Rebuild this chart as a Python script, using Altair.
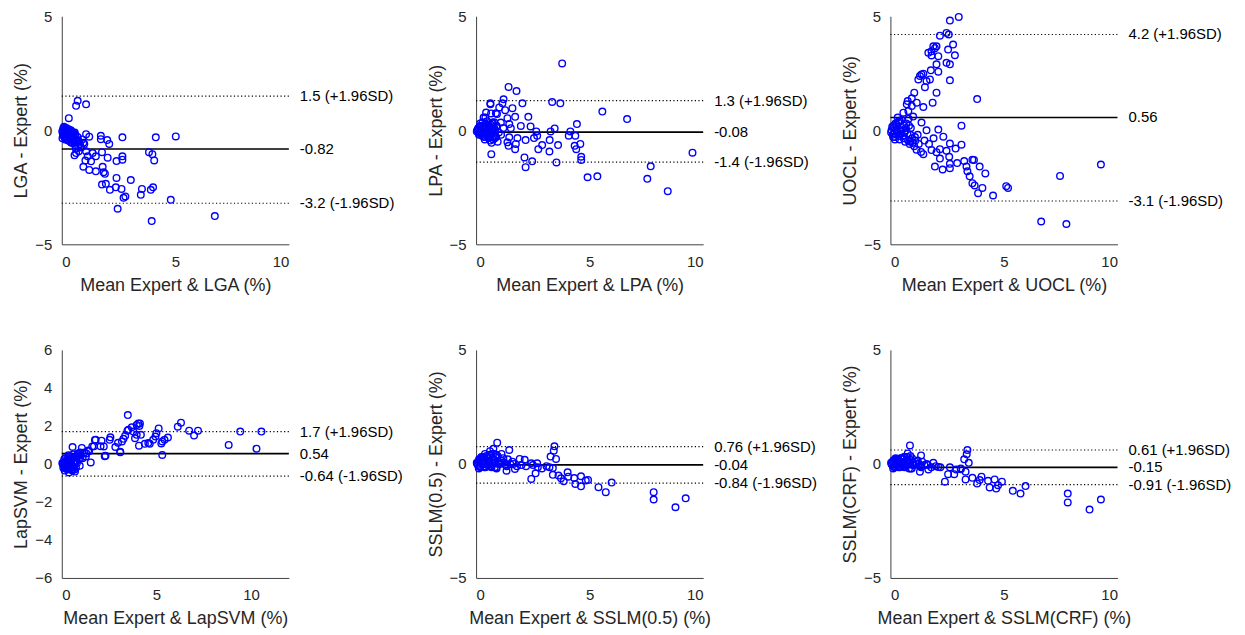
import altair as alt
import pandas as pd

# ---------------- data ----------------
# Panel 1: LGA
lga_x = [0.05, 0.1, 0.15, 0.2, 0.25, 0.3, 0.35, 0.4, 0.45, 0.5, 0.55, 0.6, 0.65, 0.7,
         0.08, 0.18, 0.28, 0.38, 0.48, 0.58, 0.3, 0.2, 0.12, 0.42, 0.52, 0.75, 0.8, 0.85,
         0.9, 0.95, 0.62, 0.72, 0.1, 0.22, 0.33, 0.44, 0.15, 0.05,
         0.70, 0.63, 1.07, 0.31, 1.07, 1.21, 1.72, 1.72, 2.0, 2.09, 2.67, 4.14,
         0.99, 0.63, 0.56, 0.75, 1.07, 1.14, 1.36, 1.29, 1.5, 1.04, 1.77, 2.02,
         0.95, 1.21, 1.5, 1.8, 1.84, 1.9, 2.41, 2.67, 2.67, 2.41, 3.04, 1.77, 1.94,
         2.12, 2.38, 2.63, 2.72, 2.8, 2.46, 3.53, 3.48, 3.92, 4.02, 3.84, 3.99, 4.07,
         3.96, 5.02, 4.8, 6.74,
         0.02, 0.07, 0.12, 0.17, 0.22, 0.27, 0.32, 0.37, 0.42, 0.47, 0.52, 0.57, 0.03,
         0.13, 0.23, 0.33, 0.43, 0.53, 0.63, 0.73]
lga_y = [0.0, -0.1, 0.05, -0.2, -0.05, -0.3, -0.15, 0.0, -0.25, -0.1, -0.35, -0.2, -0.45, -0.3,
         -0.25, -0.35, -0.45, -0.5, -0.55, -0.65, 0.05, 0.1, 0.05, -0.4, -0.3, -0.5, -0.6, -0.75,
         -0.4, -0.55, -0.8, -0.7, 0.15, -0.05, -0.15, -0.1, -0.4, -0.2,
         1.29, 1.07, 1.14, 0.53, -0.17, -0.28, -0.24, -0.39, -0.43, -0.6, -0.31, -0.31,
         -0.6, -1.0, -1.1, -0.92, -0.92, -1.14, -1.0, -1.36, -1.14, -1.33, -0.96, -1.2,
         -1.6, -1.74, -1.8, -1.6, -1.84, -1.91, -1.35, -1.14, -1.29, -2.09, -2.18, -2.38, -2.35,
         -2.61, -2.5, -2.57, -2.96, -2.9, -3.44, -2.57, -2.83, -2.61, -2.5, -0.96, -1.05, -1.32,
         -3.98, -0.27, -3.05, -3.76,
         -0.05, 0.1, -0.3, 0.0, -0.4, -0.15, -0.25, -0.05, -0.55, -0.2, -0.45, -0.1, -0.35,
         -0.15, 0.0, -0.3, -0.2, -0.4, -0.55, -0.45]

# Panel 2: LPA
lpa_x = [0.05, 0.1, 0.15, 0.2, 0.25, 0.3, 0.35, 0.4, 0.45, 0.5, 0.55, 0.6, 0.65, 0.7, 0.75,
         0.8, 0.85, 0.9, 0.95, 1.0, 0.12, 0.22, 0.32, 0.42, 0.52, 0.62, 0.72, 0.82, 0.92,
         0.18, 0.28, 0.38, 0.48, 0.58, 0.68,
         3.79, 1.43, 1.78, 1.21, 1.16, 0.63, 2.04, 3.35, 3.71, 1.6, 1.28, 0.92, 0.66,
         0.44, 0.41, 0.73, 1.09, 1.38, 1.72, 2.3, 1.46, 1.97, 2.4, 1.53, 3.46, 4.44,
         5.56, 6.65, 4.15, 4.08, 4.37, 3.28, 2.65, 2.69, 2.18, 1.82, 1.46, 1.38, 1.43,
         1.72, 1.75, 2.55, 3.24, 2.91, 2.74, 3.23, 3.61, 4.34, 4.59, 4.41, 4.63, 4.63,
         0.67, 2.13, 2.47, 2.18, 3.54, 4.91, 5.34, 7.69, 7.54, 8.44, 9.53,
         0.63, 0.33, 0.87, 0.80, 0.36, 1.02,
         0.03, 0.08, 0.13, 0.18, 0.23, 0.28, 0.33, 0.38, 0.43, 0.48, 0.53, 0.58, 0.63,
         0.68, 0.73, 0.78, 0.83, 0.88, 1.1, 1.2]
lpa_y = [0.0, 0.1, -0.1, 0.2, -0.2, 0.05, -0.3, 0.15, -0.1, 0.25, -0.35, 0.0, -0.2, 0.3, -0.4,
         0.1, -0.25, 0.2, -0.5, -0.1, -0.15, -0.05, 0.1, -0.3, -0.2, -0.45, 0.05, -0.35, 0.15,
         0.3, 0.35, -0.4, 0.4, 0.2, -0.55,
         2.93, 1.9, 1.72, 1.36, 1.18, 1.14, 1.18, 1.24, 1.18, 0.97, 0.88, 0.71, 0.74,
         0.78, 0.56, 0.34, 0.34, 0.53, 0.59, 0.59, 0.27, 0.19, 0.17, 0.09, 0.08, 0.27,
         0.82, 0.49, -0.05, -0.24, -0.24, -0.05, -0.05, -0.24, -0.43, -0.34, -0.31, -0.53, -0.68,
         -0.83, -0.6, -0.34, -0.43, -0.65, -0.83, -0.93, -0.65, -0.68, -0.6, -0.83, -1.16, -1.3,
         -1.05, -1.19, -1.36, -1.62, -1.41, -2.06, -2.02, -1.58, -2.13, -2.67, -0.98,
         1.18, 0.56, 0.75, 0.35, 0.2, 1.0,
         -0.05, 0.05, -0.2, 0.15, -0.1, -0.25, 0.1, -0.05, 0.2, -0.15, 0.05, -0.3, 0.25,
         -0.1, 0.1, -0.2, 0.0, -0.3, -0.2, 0.1]

# Panel 3: UOCL
uocl_x = [3.01, 2.62, 2.47, 2.57, 2.18, 2.76, 2.54, 2.84, 2.62, 2.47, 2.62, 2.11, 2.03,
          1.96, 1.89, 2.03, 1.81, 1.67, 1.81, 2.11, 1.78, 1.37, 1.3, 1.45, 1.74, 1.59, 1.23,
          1.52, 1.05, 0.94, 0.76, 0.72, 0.94, 1.16, 0.57, 0.79, 1.45, 2.03, 1.86, 3.82,
          0.32, 0.38, 0.13, 0.2,
          0.05, 0.1, 0.15, 0.2, 0.25, 0.3, 0.35, 0.4, 0.45, 0.5, 0.55, 0.6, 0.65, 0.7,
          0.75, 0.8, 0.85, 0.9, 0.95, 1.0, 1.1, 1.2, 0.12, 0.28, 0.48, 0.68, 0.88, 1.05,
          1.37, 1.59, 2.11, 2.33, 3.13, 2.62, 2.87, 3.13, 1.45, 1.81, 2.18, 2.47, 2.59,
          2.18, 2.03, 1.96, 2.3, 2.62, 2.62, 2.94, 3.25, 3.35, 3.61, 3.68, 3.93, 3.39,
          3.49, 4.18, 3.61, 3.71, 4.05, 3.86, 4.52, 5.1, 5.18, 7.47, 9.27, 6.64, 7.75,
          1.25, 1.5, 1.7, 1.9, 1.15, 1.35,
          0.03, 0.08, 0.18, 0.28, 0.38, 0.48, 0.58, 0.68, 0.78, 0.88, 0.98, 1.08, 0.22,
          0.42, 0.62, 0.82]
uocl_y = [4.97, 4.81, 4.27, 4.2, 4.15, 3.76, 3.54, 3.29, 2.89, 2.96, 2.19, 2.57, 2.89,
          3.6, 3.68, 3.68, 3.47, 3.4, 3.28, 3.25, 2.63, 2.45, 2.38, 2.48, 2.23, 2.16, 2.23,
          1.89, 1.65, 1.4, 1.28, 1.14, 1.06, 1.21, 0.77, 0.84, 1.02, 1.65, 1.21, 1.37,
          0.56, 0.42, 0.2, -0.4,
          0.0, -0.2, 0.1, -0.3, 0.25, -0.1, 0.35, -0.4, 0.0, 0.45, -0.25, 0.2, -0.5, 0.3,
          -0.15, 0.5, -0.6, 0.1, -0.35, 0.6, -0.45, -0.2, -0.3, -0.05, -0.15, 0.0, -0.5, -0.7,
          0.34, 0.0, 0.03, -0.28, 0.2, -0.58, -0.8, -0.63, -1.05, -0.87, -0.83, -0.9, -1.16,
          -1.24, -0.96, -1.59, -1.72, -1.66, -1.47, -1.44, -1.35, -1.59, -1.29, -1.3, -1.59, -1.8,
          -2.02, -1.89, -2.32, -2.42, -2.53, -2.76, -2.86, -2.45, -2.53, -2.0, -1.5, -4.0, -4.11,
          -0.6, -0.45, -0.6, -0.35, -0.85, -0.95,
          -0.1, 0.15, -0.15, 0.05, -0.25, -0.05, -0.35, 0.1, -0.45, -0.2, -0.55, -0.3, 0.3,
          0.4, -0.1, 0.2]

# Panel 4: LapSVM
lap_x = [3.49, 3.70, 3.96, 4.13, 4.1, 3.47, 3.78, 3.96, 4.18, 3.87, 4.08, 4.39, 4.65,
         4.83, 5.0, 5.12, 4.95, 5.31, 5.43, 5.61, 5.26, 5.31, 6.13, 6.3, 6.73, 6.99, 7.2,
         8.82, 9.43, 10.29, 10.55, 3.35, 3.18, 3.09, 2.83, 2.53, 2.57, 2.1, 1.79, 1.7,
         2.05, 2.27, 1.75, 2.22, 1.61, 1.44, 1.06, 0.57, 0.97, 1.27, 1.53, 2.31, 3.09,
         2.97, 3.26, 3.52, 4.04, 4.57,
         0.05, 0.1, 0.15, 0.2, 0.25, 0.3, 0.35, 0.4, 0.45, 0.5, 0.55, 0.6, 0.65, 0.7,
         0.75, 0.8, 0.85, 0.9, 0.95, 1.0, 1.1, 1.2, 0.12, 0.22, 0.32, 0.42, 0.52, 0.62,
         0.72, 0.82, 0.54, 0.23, 0.75, 0.18, 0.38, 0.68,
         0.03, 0.08, 0.13, 0.18, 0.23, 0.28, 0.33, 0.38, 0.43, 0.48, 0.58, 0.68, 0.78,
         0.88, 0.98, 1.3, 1.4, 0.6, 0.35, 0.15]
lap_y = [2.57, 1.93, 2.05, 2.13, 2.0, 1.75, 1.7, 1.53, 1.53, 1.35, 0.96, 1.06, 1.06,
         1.27, 1.62, 1.87, 1.44, 1.18, 1.27, 1.39, 1.08, 0.47, 1.96, 2.17, 1.75, 1.49, 1.75,
         1.0, 1.7, 0.8, 1.7, 1.48, 1.18, 0.61, 0.89, 1.27, 1.4, 1.22, 1.27, 0.93,
         0.93, 0.4, 1.26, 0.92, 0.92, 0.67, 0.84, 0.89, 0.6, 0.39, 0.08, 0.43, 0.64,
         1.11, 1.32, 1.8, 2.13, 1.1,
         0.0, -0.1, 0.1, -0.2, 0.2, -0.3, 0.3, -0.15, 0.4, 0.0, -0.35, 0.5, 0.15, -0.4,
         0.35, 0.05, 0.55, 0.25, -0.1, 0.45, 0.3, 0.6, 0.05, -0.25, 0.15, -0.05, 0.3, -0.2,
         0.1, 0.4, -0.29, -0.12, -0.2, 0.3, -0.45, -0.3,
         0.05, -0.2, 0.25, -0.1, 0.05, 0.15, -0.25, 0.25, -0.05, 0.2, -0.15, 0.35, 0.15,
         0.5, 0.3, 0.55, 0.7, 0.1, 0.45, -0.35]

# Panel 5: SSLM(0.5)
s05_x = [0.93, 1.46, 3.45, 3.42, 3.28, 3.52, 0.61, 0.39, 0.76, 1.12, 1.92, 2.14, 2.43,
         2.69, 2.72, 3.23, 3.38, 2.62, 2.43, 3.38, 3.63, 3.74, 3.86, 4.03, 4.06, 4.32,
         4.37, 4.62, 4.62, 4.83, 4.93, 5.39, 5.71, 5.97, 7.82, 7.82, 8.78, 9.23, 1.34,
         1.71, 0.9,
         0.05, 0.1, 0.15, 0.2, 0.25, 0.3, 0.35, 0.4, 0.45, 0.5, 0.55, 0.6, 0.65, 0.7,
         0.75, 0.8, 0.85, 0.9, 0.95, 1.0, 1.1, 1.2, 1.3, 1.4, 1.5, 1.6, 1.8, 2.0, 2.2,
         0.12, 0.22, 0.32, 0.42, 0.52, 0.62, 0.72, 0.82, 1.05, 1.25, 2.5, 2.9, 3.1,
         0.03, 0.08, 0.13, 0.18, 0.23, 0.28, 0.33, 0.38, 0.43, 0.48, 0.53, 0.58, 0.63,
         0.68, 0.78, 0.88, 0.98, 1.15, 1.35, 1.65]
s05_y = [0.93, 0.61, 0.77, 0.58, 0.32, 0.22, 0.56, 0.44, 0.66, 0.44, 0.22, 0.18, 0.03,
         0.03, -0.15, -0.15, -0.18, -0.41, -0.66, -0.48, -0.51, -0.63, -0.76, -0.37, -0.56, -0.62,
         -0.88, -0.54, -0.98, -0.73, -0.7, -1.02, -1.24, -0.82, -1.24, -1.56, -1.9, -1.51, -0.3,
         -0.22, -0.15,
         0.0, 0.1, -0.1, 0.2, 0.05, 0.3, -0.15, 0.15, 0.35, -0.05, 0.25, 0.4, -0.1, 0.2,
         0.45, 0.05, 0.3, -0.2, 0.35, 0.1, 0.15, 0.25, -0.05, 0.2, 0.0, 0.1, -0.1, -0.05, -0.1,
         -0.2, 0.25, 0.0, -0.15, 0.1, -0.1, 0.0, -0.15, 0.0, 0.05, -0.05, -0.2, -0.1,
         0.05, -0.05, 0.2, -0.15, 0.3, 0.1, 0.25, -0.1, 0.05, 0.3, -0.05, 0.15, 0.35,
         -0.15, 0.2, 0.4, 0.0, 0.05, -0.1, 0.0]

# Panel 6: SSLM(CRF)
scrf_x = [0.86, 1.35, 0.76, 3.39, 3.36, 3.25, 3.45, 3.1, 3.31, 2.62, 2.81, 2.54, 2.4,
          1.89, 2.11, 3.31, 3.61, 3.82, 3.93, 4.01, 4.3, 4.37, 4.59, 4.66, 4.74, 4.91,
          5.39, 5.73, 5.95, 7.81, 7.81, 8.77, 9.27, 1.3, 1.67, 0.94,
          0.05, 0.1, 0.15, 0.2, 0.25, 0.3, 0.35, 0.4, 0.45, 0.5, 0.55, 0.6, 0.65, 0.7,
          0.75, 0.8, 0.85, 0.9, 0.95, 1.0, 1.1, 1.2, 1.3, 1.4, 1.5, 1.6, 1.8, 2.0, 2.2,
          0.12, 0.22, 0.32, 0.42, 0.52, 0.62, 0.72, 0.82, 1.05, 1.25, 2.9, 3.1,
          0.03, 0.08, 0.13, 0.18, 0.23, 0.28, 0.33, 0.38, 0.43, 0.48, 0.53, 0.58, 0.63,
          0.68, 0.78, 0.88, 0.98, 1.15, 1.35, 1.65]
scrf_y = [0.81, 0.37, 0.46, 0.61, 0.42, 0.2, 0.05, -0.23, -0.34, -0.15, -0.45, -0.45, -0.78,
          0.05, -0.13, -0.68, -0.61, -0.86, -0.71, -0.56, -0.74, -1.03, -0.68, -1.08, -0.93, -0.78,
          -1.18, -1.3, -0.97, -1.3, -1.69, -2.0, -1.56, -0.34, -0.24, -0.2,
          0.0, 0.1, -0.1, 0.2, 0.05, 0.15, -0.15, 0.1, 0.25, -0.05, 0.2, 0.3, -0.1, 0.15,
          0.3, 0.0, 0.2, -0.2, 0.25, 0.05, 0.1, 0.15, -0.1, 0.1, -0.05, 0.0, -0.15, -0.1, -0.15,
          -0.2, 0.2, -0.05, -0.15, 0.05, -0.15, -0.05, -0.2, -0.05, 0.0, -0.25, -0.2,
          0.05, -0.05, 0.15, -0.15, 0.25, 0.1, 0.2, -0.1, 0.05, 0.25, -0.05, 0.1, 0.3,
          -0.1, 0.15, 0.35, -0.05, 0.0, -0.15, -0.05]

methods = ["LGA", "LPA", "UOCL", "LapSVM", "SSLM(0.5)", "SSLM(CRF)"]
stat_upper = [1.5, 1.3, 4.2, 1.7, 0.76, 0.61]
stat_mean = [-0.82, -0.08, 0.56, 0.54, -0.04, -0.15]
stat_lower = [-3.2, -1.4, -3.1, -0.64, -0.84, -0.91]
upper_text = ["1.5 (+1.96SD)", "1.3 (+1.96SD)", "4.2 (+1.96SD)", "1.7 (+1.96SD)",
              "0.76 (+1.96SD)", "0.61 (+1.96SD)"]
mean_text = ["-0.82", "-0.08", "0.56", "0.54", "-0.04", "-0.15"]
lower_text = ["-3.2 (-1.96SD)", "-1.4 (-1.96SD)", "-3.1 (-1.96SD)", "-0.64 (-1.96SD)",
              "-0.84 (-1.96SD)", "-0.91 (-1.96SD)"]
x_max = [10, 10, 10, 12, 10, 10]
y_lim = [5, 5, 5, 6, 5, 5]
y_ticks = [[-5, 0, 5], [-5, 0, 5], [-5, 0, 5], [-6, -4, -2, 0, 2, 4, 6], [-5, 0, 5], [-5, 0, 5]]
x_ticks = [0, 5, 10]
xs_all = [lga_x, lpa_x, uocl_x, lap_x, s05_x, scrf_x]
ys_all = [lga_y, lpa_y, uocl_y, lap_y, s05_y, scrf_y]

W, H = 228, 229
FONT = "Liberation Sans"


def panel(i):
    pts = pd.DataFrame({"x": xs_all[i], "y": ys_all[i]})
    xsc = alt.Scale(domain=[0, x_max[i]], nice=False, zero=False)
    ysc = alt.Scale(domain=[-y_lim[i], y_lim[i]], nice=False, zero=False)
    xax = alt.Axis(values=x_ticks, title=f"Mean Expert & {methods[i]} (%)")
    yax = alt.Axis(values=y_ticks[i], title=f"{methods[i]} - Expert (%)")

    points = alt.Chart(pts).mark_point(
        shape="circle", filled=False, color="#0000ff", size=44, strokeWidth=1.4, opacity=1
    ).encode(x=alt.X("x:Q", scale=xsc, axis=xax), y=alt.Y("y:Q", scale=ysc, axis=yax))

    loa = pd.DataFrame({"v": [stat_upper[i], stat_lower[i]]})
    dotted = alt.Chart(loa).mark_rule(color="#000000", strokeWidth=1.2, strokeDash=[1.2, 2.4]).encode(
        y=alt.Y("v:Q", scale=ysc, axis=yax)
    )
    mean_df = pd.DataFrame({"v": [stat_mean[i]]})
    mean_line = alt.Chart(mean_df).mark_rule(color="#000000", strokeWidth=1.6).encode(
        y=alt.Y("v:Q", scale=ysc, axis=yax)
    )
    labels = pd.DataFrame({
        "v": [stat_upper[i], stat_mean[i], stat_lower[i]],
        "t": [upper_text[i], mean_text[i], lower_text[i]],
    })
    text = alt.Chart(labels).mark_text(
        align="left", baseline="middle", font=FONT, fontSize=15, color="#000000"
    ).encode(
        x=alt.value(W + 11), y=alt.Y("v:Q", scale=ysc, axis=yax), text="t:N"
    )
    return alt.layer(dotted, mean_line, points, text).properties(width=W, height=H)


chart = alt.concat(
    *[panel(i) for i in range(6)],
    columns=3,
    spacing={"row": 106, "column": 188},
    bounds="flush",
).properties(
    padding={"left": 4, "top": 0, "right": 5, "bottom": 5}
).configure_view(stroke=None).configure_axis(
    grid=False,
    domainColor="#404040",
    domainWidth=1,
    ticks=False,
    labelFont=FONT,
    labelFontSize=15,
    labelColor="#262626",
    labelPadding=10,
    titleFont=FONT,
    titleFontSize=18,
    titleFontWeight="normal",
    titleColor="#262626",
).configure_axisX(titlePadding=7).configure_axisY(titlePadding=4)

chart.save("out.html", embed_options={"renderer": "svg", "actions": False})
